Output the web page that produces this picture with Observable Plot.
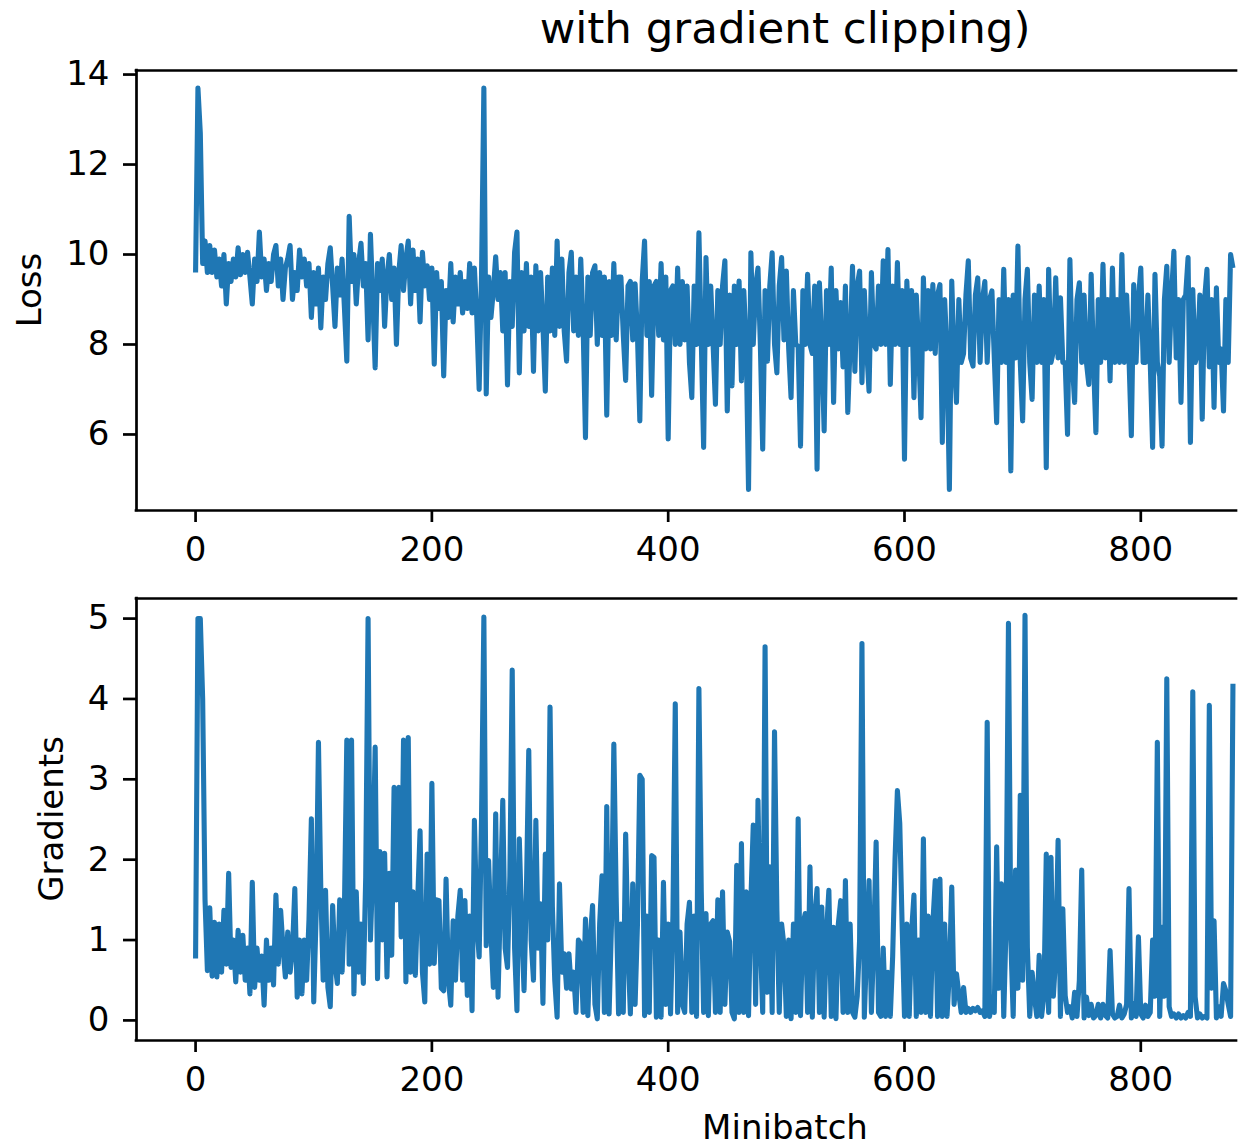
<!DOCTYPE html>
<html>
<head>
<meta charset="utf-8">
<script src="https://cdn.jsdelivr.net/npm/d3@7"></script>
<script src="https://cdn.jsdelivr.net/npm/@observablehq/plot@0.6"></script>
<style>
html, body { margin: 0; padding: 0; background: #ffffff; }
#fig { position: relative; width: 1243px; height: 1145px; overflow: hidden; background: #ffffff; }
#fig svg { position: absolute; left: 0; }
</style>
</head>
<body>
<div id="fig"></div>
<script>
// ---- data (one value every 2 minibatches) ----
const STEP = 2;
const titleText = "with gradient clipping)";
const xLabel = "Minibatch";
const lossLabel = "Loss";
const gradLabel = "Gradients";
const batchTicks = [0, 200, 400, 600, 800];
const lossTicks = [6, 8, 10, 12, 14];
const gradTicks = [0, 1, 2, 3, 4, 5];

const lossValues = [
  9.6, 13.7, 12.7, 9.8, 10.3, 9.6, 10.2, 9.6, 10.1, 9.5,
  9.9, 9.3, 10.0, 8.9, 9.8, 9.4, 9.9, 9.5, 10.15, 9.55,
  10.0, 9.6, 10.05, 9.5, 8.9, 9.9, 9.4, 10.5, 9.5, 9.9,
  9.2, 9.8, 9.4, 10.0, 10.2, 9.3, 9.9, 9.0, 9.7, 9.9,
  10.2, 9.0, 9.6, 9.2, 10.1, 9.5, 9.9, 9.3, 9.8, 8.6,
  9.6, 8.9, 9.7, 8.37, 9.5, 9.0, 9.8, 10.15, 9.3, 8.4,
  9.7, 9.1, 9.9, 8.8, 7.63, 10.85, 9.4, 10.0, 8.9, 9.8,
  10.25, 9.3, 9.8, 8.1, 10.45, 9.0, 7.48, 9.8, 9.2, 9.9,
  8.4, 9.5, 10.0, 9.0, 9.7, 8.0, 9.6, 10.2, 9.2, 9.9,
  10.3, 8.9, 10.1, 9.2, 9.9, 8.5, 10.05, 9.3, 9.75, 9.0,
  9.7, 7.56, 9.6, 8.8, 9.4, 7.3, 9.2, 8.6, 9.8, 8.5,
  9.5, 8.9, 9.6, 8.7, 9.4, 8.8, 9.8, 8.7, 9.7, 8.6,
  7.0, 9.5, 13.7, 6.9, 9.5, 8.6, 9.2, 9.95, 9.0, 9.6,
  8.3, 9.6, 7.1, 9.4, 8.4, 10.05, 10.5, 7.37, 9.6, 8.3,
  9.8, 8.4, 9.5, 7.4, 9.75, 8.3, 9.6, 8.4, 6.96, 9.5,
  8.3, 9.7, 8.2, 10.3, 8.4, 9.9, 8.3, 7.63, 9.6, 10.05,
  8.3, 9.5, 8.2, 9.9, 8.4, 5.93, 9.5, 8.2, 9.6, 9.75,
  8.0, 9.6, 8.2, 9.5, 6.43, 9.4, 8.2, 9.8, 8.1, 9.5,
  9.5, 8.2, 7.2, 9.3, 9.4, 8.1, 9.35, 8.2, 6.3, 9.4,
  10.3, 8.2, 9.4, 6.87, 9.3, 9.4, 8.2, 9.8, 8.1, 9.5,
  5.9, 9.2, 9.3, 8.0, 9.7, 8.0, 9.4, 8.1, 9.3, 7.6,
  6.82, 9.3, 8.0, 10.48, 8.1, 5.71, 9.93, 8.0, 9.3, 8.0,
  6.67, 9.2, 8.0, 9.3, 9.86, 6.52, 9.1, 7.08, 9.3, 8.0,
  9.41, 7.19, 9.2, 8.0, 4.78, 10.04, 8.0, 9.3, 9.7, 8.0,
  5.67, 9.2, 7.63, 9.3, 10.04, 8.0, 7.37, 9.3, 9.93, 8.1,
  9.63, 7.9, 6.82, 9.2, 8.0, 7.96, 5.74, 9.2, 8.0, 9.56,
  8.0, 7.8, 9.3, 5.23, 9.37, 8.0, 6.08, 9.2, 8.0, 9.7,
  6.71, 9.2, 7.9, 8.93, 7.5, 9.3, 6.49, 8.0, 9.74, 7.4,
  9.3, 9.63, 7.15, 9.2, 7.9, 6.96, 9.6, 8.0, 7.9, 9.3,
  8.0, 9.86, 8.0, 10.11, 7.11, 9.3, 8.0, 9.82, 8.0, 9.2,
  5.45, 9.41, 8.0, 9.2, 6.82, 9.1, 7.9, 6.37, 9.48, 7.9,
  9.2, 7.9, 9.33, 7.8, 9.1, 9.33, 5.82, 9.0, 7.8, 4.78,
  9.41, 7.7, 6.71, 9.0, 7.6, 7.8, 9.1, 9.86, 7.7, 7.52,
  9.1, 9.48, 7.6, 9.0, 9.4, 7.6, 9.0, 9.19, 7.7, 6.26,
  9.0, 7.6, 9.67, 7.6, 9.0, 5.19, 9.1, 7.7, 10.19, 7.6,
  6.3, 9.0, 9.67, 7.6, 6.78, 9.1, 7.6, 9.3, 7.6, 9.0,
  5.26, 9.67, 7.6, 7.85, 9.48, 7.7, 9.04, 7.6, 7.6, 6.0,
  9.89, 7.6, 6.71, 9.0, 9.37, 7.6, 9.1, 7.6, 7.11, 9.56,
  7.6, 6.04, 9.0, 7.6, 9.78, 7.7, 9.0, 7.19, 9.7, 7.6,
  9.0, 7.6, 10.0, 7.6, 9.1, 7.7, 5.97, 9.33, 7.6, 9.0,
  9.7, 7.6, 7.6, 9.1, 7.6, 5.71, 9.56, 7.6, 7.3, 5.74,
  9.0, 9.74, 7.6, 9.1, 10.07, 7.7, 9.0, 6.71, 9.0, 9.1,
  9.93, 5.82, 9.22, 7.6, 7.8, 9.1, 6.34, 9.0, 9.67, 7.5,
  9.0, 6.6, 9.26, 7.6, 7.9, 6.52, 9.0, 7.6, 10.0, 9.7
];

const gradValues = [
  0.77, 5.0, 5.0, 4.0, 1.5, 0.62, 1.4, 0.55, 1.22, 0.54,
  1.2, 0.6, 1.37, 0.7, 1.83, 0.66, 1.0, 0.48, 1.12, 0.6,
  1.06, 0.5, 0.9, 0.33, 1.72, 0.41, 0.9, 0.5, 0.8, 0.19,
  1.0, 0.5, 0.9, 0.44, 1.56, 0.7, 1.37, 0.9, 0.54, 1.1,
  0.6, 0.87, 1.64, 0.29, 1.0, 0.33, 1.0, 0.5, 1.26, 2.51,
  0.23, 1.3, 3.46, 1.62, 0.5, 1.62, 0.41, 0.17, 1.43, 0.7,
  0.46, 1.5, 0.6, 1.4, 3.49, 0.7, 3.49, 0.33, 1.6, 0.6,
  1.2, 0.46, 1.78, 5.0, 1.0, 1.9, 3.4, 0.52, 2.1, 1.0,
  2.08, 0.54, 1.83, 0.81, 2.9, 1.5, 2.9, 1.04, 3.49, 0.48,
  3.52, 0.6, 1.6, 0.56, 1.5, 2.36, 0.6, 0.23, 2.07, 0.7,
  2.95, 0.71, 1.5, 1.49, 0.4, 0.37, 1.76, 0.5, 0.19, 1.24,
  0.5, 1.3, 1.62, 0.5, 1.49, 0.31, 1.3, 0.12, 2.49, 1.2,
  0.79, 2.5, 5.02, 0.93, 1.99, 1.1, 0.41, 2.57, 0.29, 1.5,
  2.74, 0.9, 0.66, 1.8, 4.36, 0.9, 0.12, 2.26, 1.2, 0.37,
  1.6, 3.36, 1.0, 0.5, 2.49, 0.9, 1.45, 0.21, 2.07, 1.0,
  3.9, 1.41, 0.5, 0.04, 1.7, 0.6, 0.83, 0.4, 0.83, 0.39,
  0.6, 0.1, 1.0, 0.95, 0.1, 1.26, 0.06, 1.0, 1.43, 0.2,
  0.02, 1.2, 1.8, 0.1, 2.66, 0.08, 1.2, 3.44, 1.53, 0.08,
  1.2, 0.1, 2.32, 0.9, 0.08, 1.7, 0.2, 1.2, 3.05, 3.0,
  0.06, 1.3, 0.1, 2.05, 2.03, 0.04, 1.0, 0.04, 1.72, 0.2,
  1.2, 0.08, 1.3, 3.94, 0.1, 1.1, 0.2, 0.1, 1.2, 1.47,
  0.1, 1.3, 0.05, 4.13, 1.6, 0.1, 1.33, 0.06, 1.2, 1.24,
  0.1, 1.5, 0.1, 1.6, 0.2, 1.1, 0.98, 0.1, 0.02, 1.93,
  0.1, 2.2, 0.1, 1.6, 0.06, 1.5, 2.43, 0.2, 2.74, 1.0,
  0.1, 4.65, 0.35, 1.91, 0.1, 3.59, 1.37, 0.1, 1.2, 0.93,
  0.05, 1.0, 0.02, 1.2, 0.1, 2.51, 0.06, 1.2, 1.33, 0.1,
  1.91, 0.04, 1.3, 1.64, 0.1, 1.41, 0.04, 1.1, 1.62, 0.05,
  1.16, 0.02, 1.2, 1.49, 0.1, 1.74, 0.1, 1.2, 0.1, 0.04,
  0.3, 1.0, 4.69, 0.04, 0.9, 1.74, 0.1, 1.0, 2.22, 0.1,
  0.05, 0.9, 0.05, 0.6, 0.05, 0.8, 2.0, 2.86, 2.45, 1.18,
  0.05, 1.2, 0.05, 1.1, 1.56, 0.05, 1.0, 0.1, 2.26, 0.1,
  1.3, 0.05, 1.2, 1.74, 0.05, 1.76, 0.05, 1.2, 0.05, 0.6,
  1.66, 0.2, 0.58, 0.33, 0.1, 0.41, 0.1, 0.15, 0.1, 0.15,
  0.12, 0.16, 0.1, 0.12, 0.05, 3.71, 0.05, 0.29, 0.1, 2.16,
  0.4, 1.7, 0.05, 1.2, 4.94, 1.0, 0.05, 1.87, 0.4, 2.8,
  0.5, 5.04, 0.91, 0.05, 0.6, 0.29, 0.05, 0.81, 0.05, 0.3,
  2.07, 0.1, 2.03, 0.3, 0.8, 2.24, 0.05, 1.39, 0.31, 0.1,
  0.17, 0.03, 0.35, 0.05, 0.5, 1.87, 0.03, 0.29, 0.06, 0.2,
  0.03, 0.06, 0.2, 0.03, 0.2, 0.06, 0.03, 0.87, 0.08, 0.03,
  0.05, 0.19, 0.03, 0.08, 0.2, 1.64, 0.03, 0.21, 0.05, 1.04,
  0.08, 0.03, 0.19, 0.05, 0.1, 1.0, 0.3, 3.46, 0.05, 1.16,
  0.3, 4.25, 0.17, 0.05, 0.08, 0.03, 0.08, 0.03, 0.06, 0.03,
  0.1, 0.05, 4.09, 0.29, 0.03, 0.08, 0.03, 0.05, 0.03, 3.92,
  0.4, 1.24, 0.03, 0.17, 0.05, 0.46, 0.37, 0.2, 0.05, 4.19
];

// ---- style / layout ----
const LINE_COLOR = "#1f77b4";
const FONT = "DejaVu Sans, Liberation Sans, sans-serif";
const FS = 34;
const SPINE = 2.7;
const W = 1243;
const xDomain = [-50, 881];
const lossDomain = [4.31, 14.09];
const gradDomain = [-0.25, 5.25];

const lossData = lossValues.map((v, i) => ({minibatch: i * STEP, value: v}));
const gradData = gradValues.map((v, i) => ({minibatch: i * STEP, value: v}));

function panel(data, yDomain, yTicks, height, mTop, mBottom) {
  return Plot.plot({
    width: W,
    height,
    marginLeft: 136,
    marginRight: 7,
    marginTop: mTop,
    marginBottom: mBottom,
    style: {fontFamily: FONT, fontSize: FS + "px", color: "#000", background: "transparent", overflow: "visible"},
    x: {domain: xDomain, axis: null},
    y: {domain: yDomain, axis: null},
    marks: [
      Plot.line(data, {x: "minibatch", y: "value", stroke: LINE_COLOR, strokeWidth: 5.1, strokeLinejoin: "round", strokeLinecap: "butt"}),
      Plot.ruleY([yDomain[1]], {stroke: "#000", strokeWidth: SPINE, strokeLinecap: "square"}),
      Plot.ruleY([yDomain[0]], {stroke: "#000", strokeWidth: SPINE, strokeLinecap: "square"}),
      Plot.ruleX([xDomain[0]], {stroke: "#000", strokeWidth: SPINE, strokeLinecap: "square"}),
      Plot.axisX({ticks: batchTicks, tickFormat: "d", tickSize: 12, tickPadding: 14, fontSize: FS, strokeWidth: SPINE, label: null, fill: "#000", stroke: "#000"}),
      Plot.axisY({ticks: yTicks, tickFormat: "d", tickSize: 13, tickPadding: 14, fontSize: FS, strokeWidth: SPINE, label: null, fill: "#000", stroke: "#000"})
    ]
  });
}

const fig = document.getElementById("fig");

const topPanel = panel(lossData, lossDomain, lossTicks, 575, 70, 65);
topPanel.style.top = "0px";
fig.appendChild(topPanel);

const bottomPanel = panel(gradData, gradDomain, gradTicks, 585, 38, 105);
bottomPanel.style.top = "560px";
fig.appendChild(bottomPanel);

// title (second line of a cropped figure title)
d3.select(topPanel).append("text")
  .attr("x", 785).attr("y", 43)
  .attr("text-anchor", "middle")
  .attr("font-family", FONT).attr("font-size", 43.5)
  .attr("fill", "#000")
  .text(titleText);

// y labels
d3.select(topPanel).append("text")
  .attr("transform", `translate(41,290) rotate(-90)`)
  .attr("text-anchor", "middle")
  .attr("font-family", FONT).attr("font-size", FS)
  .attr("fill", "#000")
  .text(lossLabel);

d3.select(bottomPanel).append("text")
  .attr("transform", `translate(63,${819 - 560}) rotate(-90)`)
  .attr("text-anchor", "middle")
  .attr("font-family", FONT).attr("font-size", FS)
  .attr("fill", "#000")
  .text(gradLabel);

// x label
d3.select(bottomPanel).append("text")
  .attr("x", 785).attr("y", 1139 - 560)
  .attr("text-anchor", "middle")
  .attr("font-family", FONT).attr("font-size", FS)
  .attr("fill", "#000")
  .text(xLabel);
</script>
</body>
</html>
